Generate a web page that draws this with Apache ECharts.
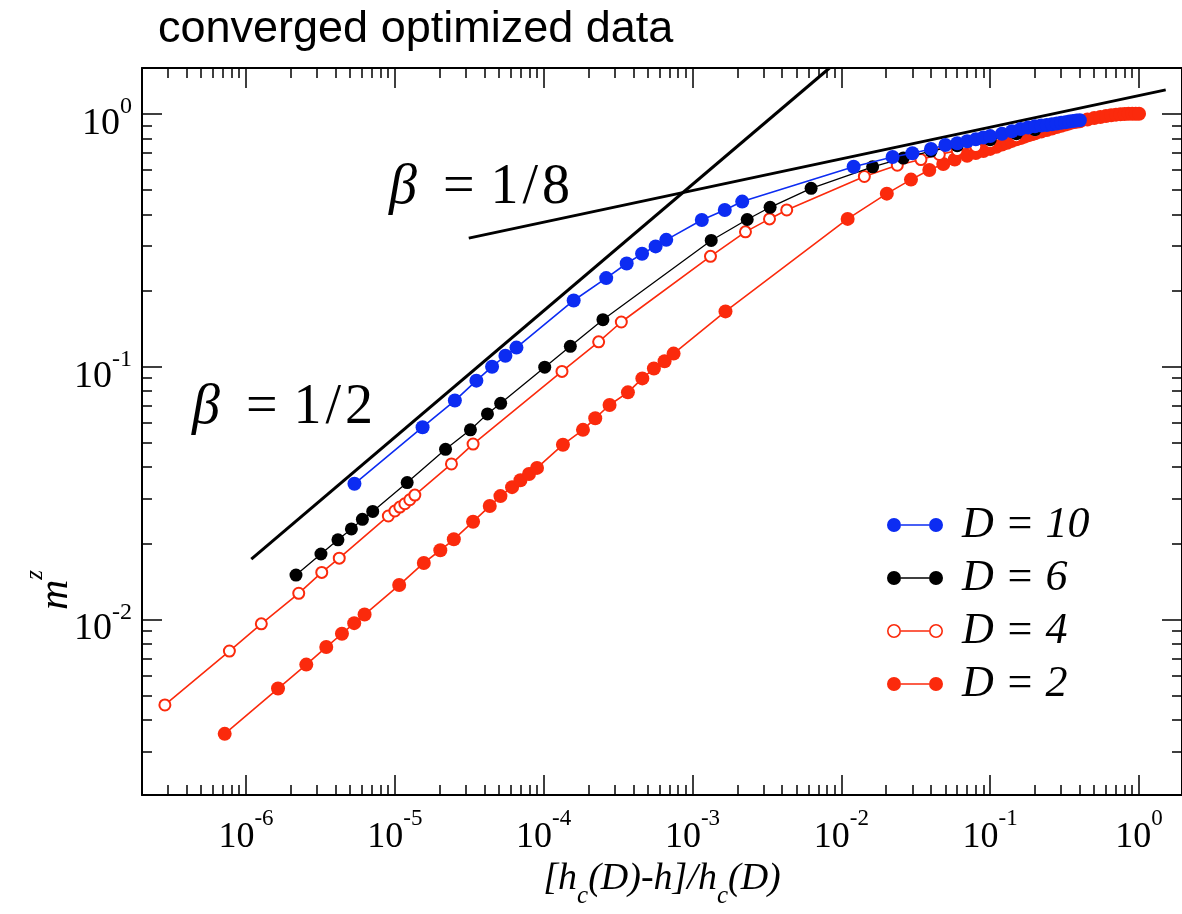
<!DOCTYPE html>
<html><head><meta charset="utf-8">
<script src="https://cdn.jsdelivr.net/npm/echarts@6/dist/echarts.min.js"></script>
<style>html,body{margin:0;padding:0;background:#fff;overflow:hidden}#c{width:1182px;height:914px}</style>
</head><body><div id="c"></div>
<script>
// ---------------- data ----------------
const titleText = 'converged optimized data';
const xMajorTicks = [1e-6, 1e-5, 1e-4, 1e-3, 1e-2, 1e-1, 1];
const yMajorTicks = [1e-2, 1e-1, 1];
const seriesNames = ['D = 10', 'D = 6', 'D = 4', 'D = 2'];

const d10X = [5.35e-6, 1.535e-5, 2.53e-5, 3.53e-5, 4.50e-5, 5.53e-5, 6.56e-5, 1.59e-4, 2.63e-4, 3.61e-4, 4.58e-4, 5.65e-4, 6.66e-4, 1.154e-3, 1.647e-3, 2.157e-3, 0.01209, 0.02208, 0.03, 0.04, 0.05, 0.06, 0.07, 0.08, 0.09, 0.10, 0.12, 0.14, 0.16, 0.18, 0.20, 0.22, 0.24, 0.26, 0.28, 0.30, 0.32, 0.34, 0.36, 0.38, 0.40];
const d10Y = [0.0344, 0.0576, 0.0734, 0.0880, 0.0999, 0.1104, 0.1189, 0.1826, 0.2239, 0.2557, 0.2793, 0.2988, 0.3172, 0.3802, 0.4164, 0.4494, 0.6170, 0.6743, 0.698, 0.726, 0.752, 0.765, 0.779, 0.792, 0.806, 0.816, 0.834, 0.853, 0.871, 0.882, 0.893, 0.898, 0.903, 0.909, 0.915, 0.922, 0.926, 0.931, 0.936, 0.940, 0.943];

const d6X = [2.166e-6, 3.187e-6, 4.145e-6, 5.105e-6, 6.05e-6, 7.10e-6, 1.21e-5, 2.19e-5, 3.22e-5, 4.19e-5, 5.14e-5, 1.016e-4, 1.51e-4, 2.50e-4, 1.335e-3, 2.33e-3, 3.32e-3, 6.26e-3, 0.01622, 0.02607, 0.04, 0.06, 0.10, 0.15, 0.20];
const d6Y = [0.01498, 0.01815, 0.02065, 0.02281, 0.02488, 0.02675, 0.03479, 0.04709, 0.05623, 0.06501, 0.07161, 0.0995, 0.1203, 0.1533, 0.3155, 0.3817, 0.4267, 0.5069, 0.617, 0.668, 0.712, 0.748, 0.790, 0.834, 0.865];

const d4X = [2.85e-7, 7.73e-7, 1.267e-6, 2.26e-6, 3.227e-6, 4.23e-6, 9.04e-6, 1.0e-5, 1.08e-5, 1.167e-5, 1.26e-5, 1.362e-5, 2.40e-5, 3.354e-5, 1.327e-4, 2.34e-4, 3.323e-4, 1.32e-3, 2.268e-3, 3.29e-3, 4.295e-3, 0.01427, 0.02376, 0.03426, 0.0455, 0.06, 0.08, 0.10, 0.15, 0.20];
const d4Y = [4.59e-3, 7.50e-3, 9.61e-3, 0.01269, 0.01535, 0.01748, 0.02566, 0.02685, 0.02783, 0.02868, 0.02974, 0.03103, 0.04121, 0.04940, 0.0957, 0.1253, 0.1501, 0.2730, 0.3411, 0.3838, 0.4164, 0.565, 0.626, 0.659, 0.690, 0.715, 0.742, 0.769, 0.812, 0.849];

const d2X = [7.19e-7, 1.64e-6, 2.54e-6, 3.46e-6, 4.41e-6, 5.33e-6, 6.26e-6, 1.069e-5, 1.565e-5, 2.02e-5, 2.49e-5, 3.354e-5, 4.34e-5, 5.12e-5, 6.13e-5, 6.98e-5, 7.97e-5, 9.02e-5, 1.347e-4, 1.836e-4, 2.22e-4, 2.77e-4, 3.68e-4, 4.60e-4, 5.50e-4, 6.49e-4, 7.46e-4, 1.665e-3, 0.01102, 0.0202, 0.02936, 0.03897, 0.04836, 0.05776, 0.07, 0.08, 0.09, 0.10, 0.11, 0.12, 0.13, 0.14, 0.15, 0.16, 0.17, 0.18, 0.19, 0.20, 0.22, 0.24, 0.26, 0.28, 0.30, 0.32, 0.34, 0.36, 0.38, 0.40, 0.45, 0.50, 0.55, 0.60, 0.65, 0.70, 0.75, 0.80, 0.85, 0.90, 0.95, 1.0];
const d2Y = [3.528e-3, 5.33e-3, 6.63e-3, 7.78e-3, 8.78e-3, 9.67e-3, 0.01046, 0.01368, 0.01673, 0.01878, 0.02075, 0.02436, 0.02809, 0.03075, 0.03337, 0.03554, 0.03763, 0.03975, 0.04910, 0.05623, 0.06252, 0.0705, 0.0791, 0.0898, 0.0983, 0.1050, 0.1126, 0.1653, 0.3838, 0.4831, 0.549, 0.5994, 0.6327, 0.659, 0.682, 0.700, 0.712, 0.726, 0.741, 0.755, 0.768, 0.781, 0.792, 0.802, 0.812, 0.822, 0.830, 0.837, 0.850, 0.862, 0.874, 0.886, 0.897, 0.907, 0.916, 0.925, 0.930, 0.934, 0.949, 0.962, 0.971, 0.979, 0.986, 0.992, 0.996, 0.998, 0.999, 1.0, 1.0, 1.0];

// guide lines (slope 1/2 and 1/8 in log-log)
const betaHalfLineX = [1.085e-6, 8.33e-3];
const betaHalfLineY = [0.01731, 1.517];
const betaEighthLineX = [3.137e-5, 1.511];
const betaEighthLineY = [0.3222, 1.243];
const betaHalfLabel = ['1', '2'];
const betaEighthLabel = ['1', '8'];

// axis extents
const X_MIN = 2.0e-7, X_MAX = 1.944;
const Y_MIN = 2.02e-3, Y_MAX = 1.517;

// ---------------- build ----------------
const zip = (xs, ys) => xs.map((x, i) => [x, ys[i]]);
function minorTicks(lo, hi) {
  const out = [];
  for (let n = -8; n <= 1; n++) for (let k = 2; k <= 9; k++) {
    const v = +(k * Math.pow(10, n)).toPrecision(6);
    if (v > lo && v < hi) out.push(v);
  }
  return out;
}
const pow10Label = v => '{b|10}{s|' + Math.round(Math.log10(v)) + '}';
const SERIF = 'Liberation Serif';
const BLUE = '#0c2cf2', RED = '#fb2a0c', BLACK = '#000000';

const xLabelRich = {
  b: { fontFamily: SERIF, fontSize: 36, lineHeight: 36, padding: [12, 0, 0, 0], verticalAlign: 'top', color: '#000' },
  s: { fontFamily: SERIF, fontSize: 23, lineHeight: 23, verticalAlign: 'top', color: '#000' }
};
const yLabelRich = {
  b: { fontFamily: SERIF, fontSize: 38, lineHeight: 38, padding: [10, 0, 0, 0], verticalAlign: 'top', color: '#000' },
  s: { fontFamily: SERIF, fontSize: 24, lineHeight: 24, verticalAlign: 'top', color: '#000' }
};
const lineCommon = { onZero: false, show: true, lineStyle: { color: '#000', width: 2 } };
const noLine = { onZero: false, show: false };

function mkAxis(isX, pos, ticks, len, withLabel, withLine) {
  return {
    type: 'log', logBase: 10, position: pos, gridIndex: 0,
    min: isX ? X_MIN : Y_MIN, max: isX ? X_MAX : Y_MAX,
    axisLine: withLine ? lineCommon : noLine,
    axisTick: { show: true, inside: true, length: len, customValues: ticks, lineStyle: { color: '#000', width: 1.5 } },
    axisLabel: withLabel ? { show: true, margin: isX ? 12 : 10, customValues: ticks, formatter: pow10Label, rich: isX ? xLabelRich : yLabelRich } : { show: false },
    splitLine: { show: false }, minorTick: { show: false }
  };
}
const xMinor = minorTicks(X_MIN, X_MAX);
const yMinor = minorTicks(Y_MIN, Y_MAX);

const xAxes = [
  mkAxis(true, 'bottom', xMajorTicks, 20, true, true),
  mkAxis(true, 'bottom', xMinor, 10, false, false),
  mkAxis(true, 'top', xMajorTicks, 20, false, true),
  mkAxis(true, 'top', xMinor, 10, false, false)
];
xAxes[0].name = '{n|[h}{c|c}{n|(D)-h]/h}{c|c}{n|(D)}';
xAxes[0].nameLocation = 'middle';
xAxes[0].nameGap = 64;
xAxes[0].nameTextStyle = {
  rich: {
    n: { fontFamily: SERIF, fontStyle: 'italic', fontSize: 38, lineHeight: 38, verticalAlign: 'top', color: '#000' },
    c: { fontFamily: SERIF, fontStyle: 'italic', fontSize: 25, lineHeight: 25, padding: [24, 0, 0, 0], verticalAlign: 'top', color: '#000' }
  }
};
const yAxes = [
  mkAxis(false, 'left', yMajorTicks, 20, true, true),
  mkAxis(false, 'left', yMinor, 10, false, false),
  mkAxis(false, 'right', yMajorTicks, 20, false, true),
  mkAxis(false, 'right', yMinor, 10, false, false)
];

const iconFilled = 'path://M0,7A7,7,0,1,1,14,7A7,7,0,1,1,0,7ZM14,6.2L42,6.2L42,7.8L14,7.8ZM42,7A7,7,0,1,1,56,7A7,7,0,1,1,42,7Z';
const iconOpen = 'path://M0,7A7,7,0,1,1,14,7A7,7,0,1,1,0,7ZM1.6,7A5.4,5.4,0,1,0,12.4,7A5.4,5.4,0,1,0,1.6,7ZM14,6.2L42,6.2L42,7.8L14,7.8ZM42,7A7,7,0,1,1,56,7A7,7,0,1,1,42,7ZM43.6,7A5.4,5.4,0,1,0,54.4,7A5.4,5.4,0,1,0,43.6,7Z';

function dataSeries(name, xs, ys, color, symbol, size, lw, z) {
  return {
    type: 'line', name, data: zip(xs, ys), xAxisIndex: 0, yAxisIndex: 0,
    symbol, symbolSize: size, showSymbol: true, showAllSymbol: true, clip: true, z,
    lineStyle: { color, width: lw },
    itemStyle: symbol === 'emptyCircle' ? { color, borderColor: color, borderWidth: 1.6 } : { color, borderWidth: 0 },
    emphasis: { disabled: true }, animation: false
  };
}
function betaText(parts) {
  return '{g|β}{o|=}{n|' + parts[0] + '}{sl|/}{n|' + parts[1] + '}';
}
const betaRich = {
  g: { fontFamily: SERIF, fontStyle: 'italic', fontSize: 56 },
  o: { fontFamily: SERIF, fontSize: 56, padding: [0, 16, 0, 26] },
  n: { fontFamily: SERIF, fontSize: 56 },
  sl: { fontFamily: SERIF, fontSize: 56, padding: [0, 4, 0, 4] }
};

const option = {
  animation: false,
  backgroundColor: '#fff',
  title: { text: titleText, left: 153, top: 2, textStyle: { fontFamily: 'Liberation Sans', fontSize: 45, fontWeight: 'normal', color: '#000' } },
  grid: { left: 142, top: 68, width: 1041, height: 731, containLabel: false },
  xAxis: xAxes,
  yAxis: yAxes,
  legend: {
    orient: 'vertical', left: 882, top: 498, itemWidth: 56, itemHeight: 14, itemGap: 9,
    selectedMode: false,
    textStyle: { fontFamily: SERIF, fontStyle: 'italic', fontSize: 44, lineHeight: 44, color: '#000', padding: [0, 0, 0, 14] },
    data: [
      { name: seriesNames[0], icon: iconFilled, itemStyle: { color: BLUE, borderWidth: 0 } },
      { name: seriesNames[1], icon: iconFilled, itemStyle: { color: BLACK, borderWidth: 0 } },
      { name: seriesNames[2], icon: iconOpen, itemStyle: { color: RED, borderWidth: 0 } },
      { name: seriesNames[3], icon: iconFilled, itemStyle: { color: RED, borderWidth: 0 } }
    ]
  },
  graphic: [
    { type: 'text', left: 192, top: 380, style: { text: betaText(betaHalfLabel), rich: betaRich, fill: '#000' } },
    { type: 'text', left: 389, top: 160, style: { text: betaText(betaEighthLabel), rich: betaRich, fill: '#000' } },
    { type: 'text', x: 44, y: 590, rotation: Math.PI / 2, style: { text: '{m|m}{z|z}', align: 'center', verticalAlign: 'middle', rich: {
      m: { fontFamily: SERIF, fontStyle: 'italic', fontSize: 42, lineHeight: 42, padding: [12, 0, 0, 0], verticalAlign: 'top' },
      z: { fontFamily: SERIF, fontStyle: 'italic', fontSize: 25, lineHeight: 25, verticalAlign: 'top' } }, fill: '#000' } }
  ],
  series: [
    { type: 'line', name: 'beta12', data: zip(betaHalfLineX, betaHalfLineY), symbol: 'none', showSymbol: false, clip: true, z: 1,
      lineStyle: { color: '#000', width: 3 }, emphasis: { disabled: true }, silent: true },
    { type: 'line', name: 'beta18', data: zip(betaEighthLineX, betaEighthLineY), symbol: 'none', showSymbol: false, clip: true, z: 1,
      lineStyle: { color: '#000', width: 3 }, emphasis: { disabled: true }, silent: true },
    dataSeries(seriesNames[3], d2X, d2Y, RED, 'circle', 14, 1.6, 2),
    dataSeries(seriesNames[2], d4X, d4Y, RED, 'emptyCircle', 11, 1.6, 3),
    dataSeries(seriesNames[1], d6X, d6Y, BLACK, 'circle', 13, 1.3, 4),
    dataSeries(seriesNames[0], d10X, d10Y, BLUE, 'circle', 14, 1.6, 5)
  ]
};
const chart = echarts.init(document.getElementById('c'), null, { renderer: 'canvas' });
chart.setOption(option);
</script>
</body></html>
